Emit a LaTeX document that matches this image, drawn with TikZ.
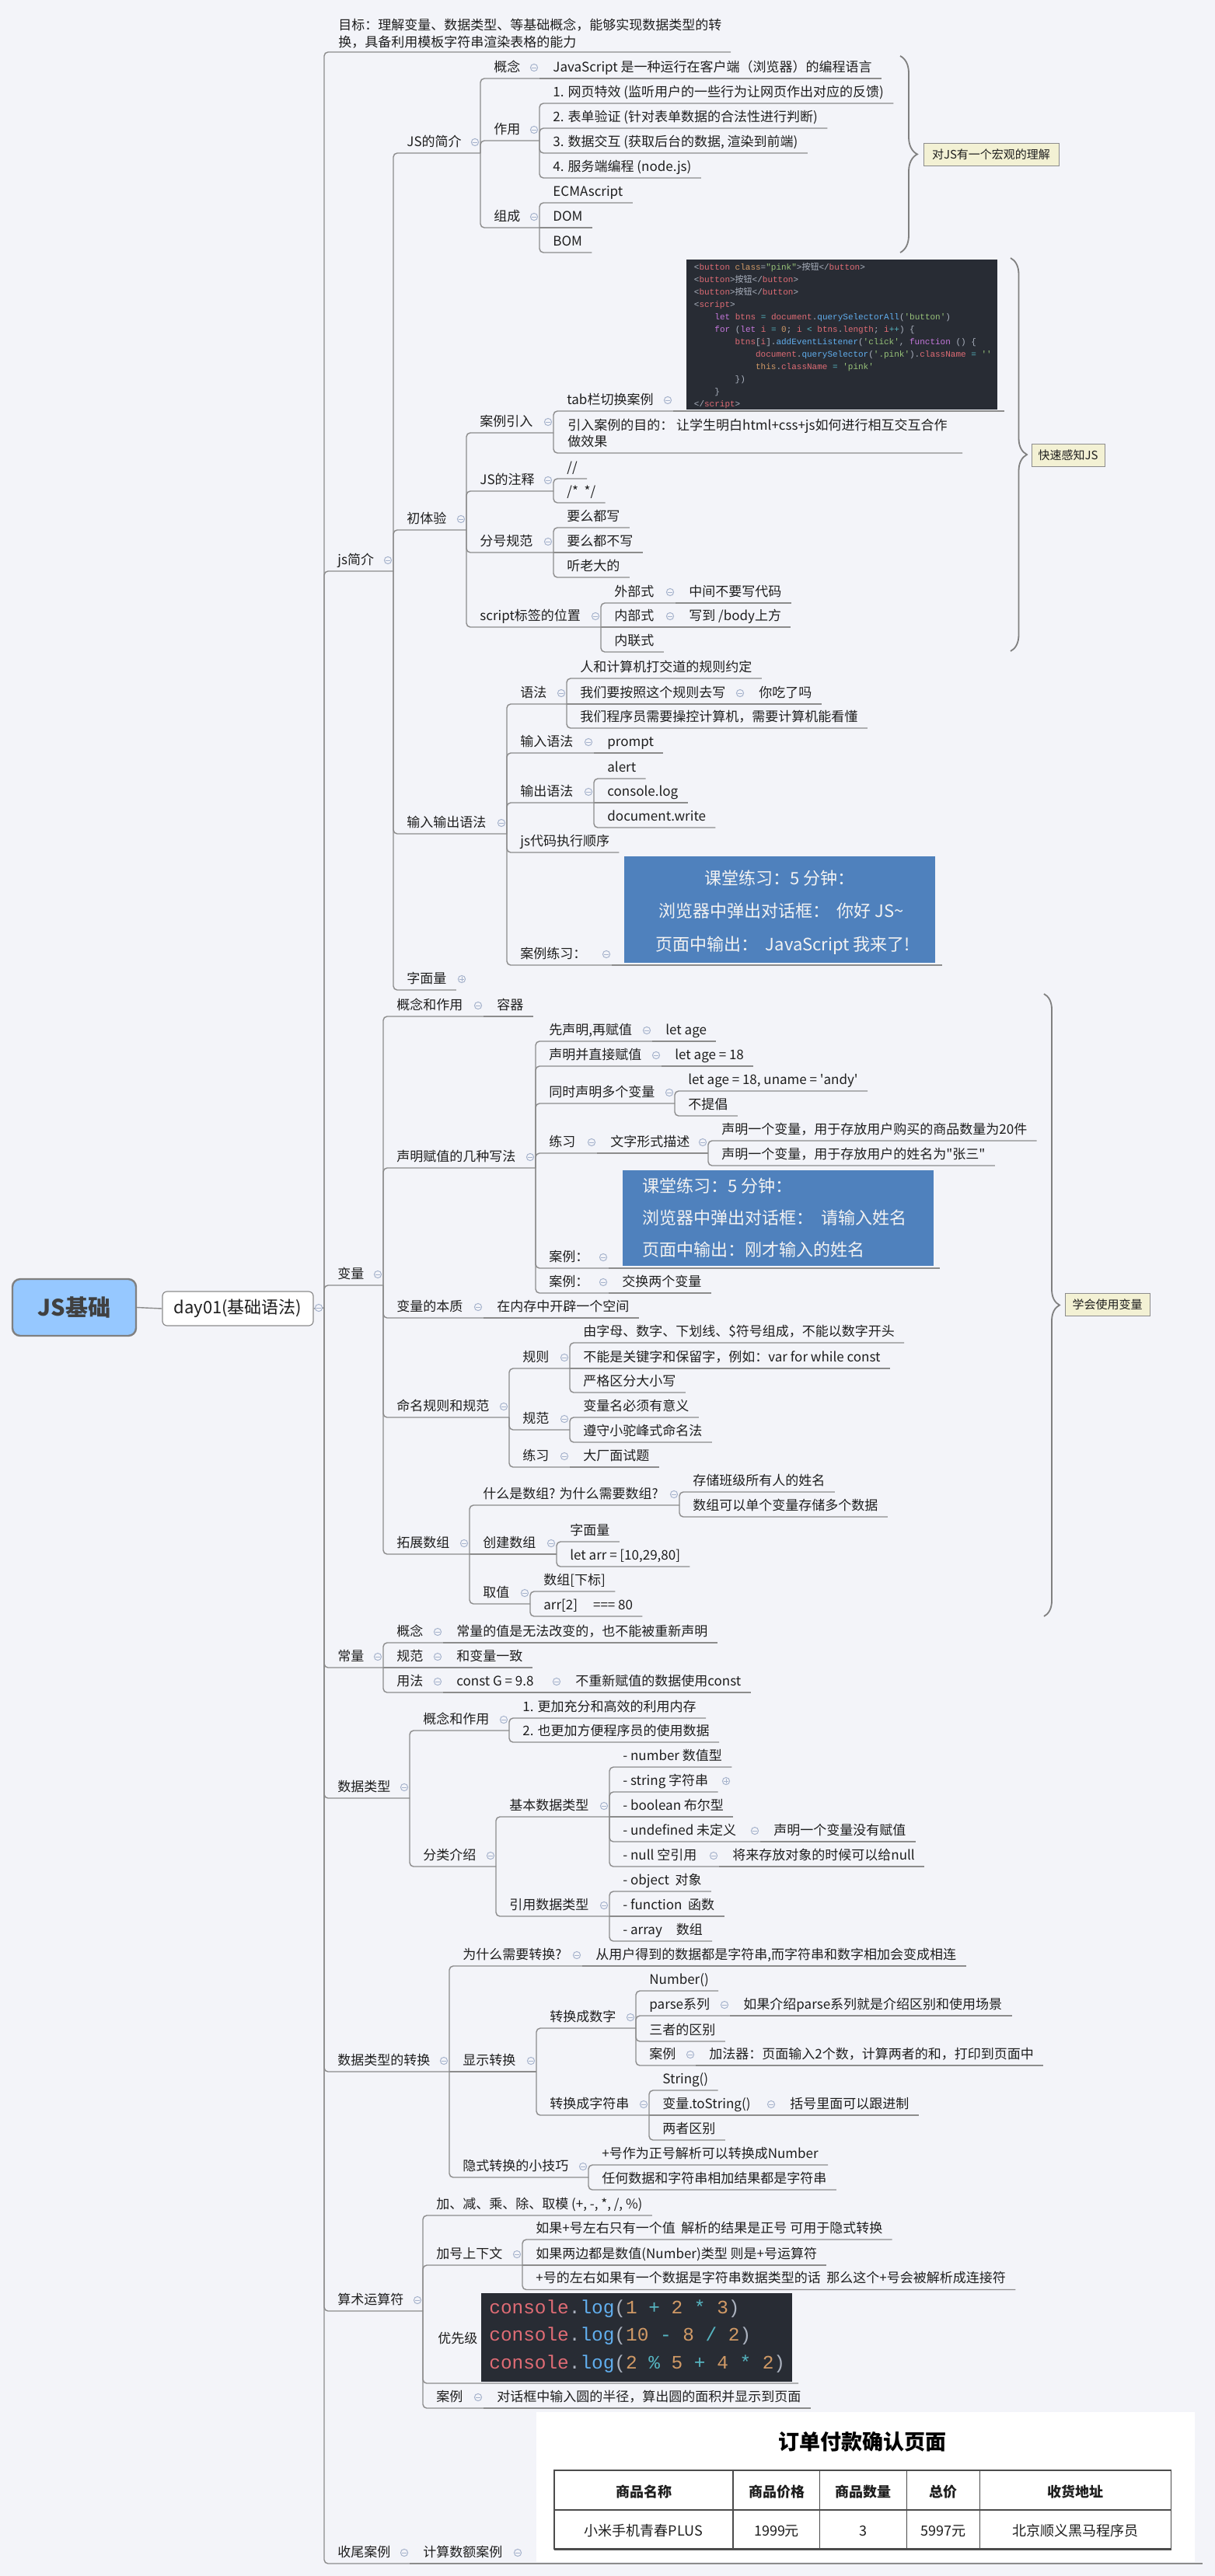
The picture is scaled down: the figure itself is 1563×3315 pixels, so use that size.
\documentclass[tikz,border=0pt]{standalone}
\usepackage{fontspec}
\setmainfont{Noto Sans CJK SC}[Ligatures=TeXOff]
\setmonofont{Liberation Mono}[Ligatures=TeXOff]
\newfontfamily\cjk{Noto Sans CJK SC}[Ligatures=TeXOff]
\usetikzlibrary{calc,decorations.pathreplacing}
\definecolor{bgc}{HTML}{F3F4F9}
\definecolor{lnc}{HTML}{8C8C8C}
\definecolor{circ}{HTML}{A6B3CC}
\definecolor{txc}{HTML}{1E1E1E}
\definecolor{codebg}{HTML}{282C34}
\definecolor{cdR}{HTML}{E06C75}
\definecolor{cdO}{HTML}{D19A66}
\definecolor{cdG}{HTML}{98C379}
\definecolor{cdB}{HTML}{61AFEF}
\definecolor{cdP}{HTML}{C678DD}
\definecolor{cdC}{HTML}{56B6C2}
\definecolor{cdF}{HTML}{ABB2BF}
\definecolor{boxblue}{HTML}{4F81BD}
\definecolor{lbl}{HTML}{F3F1D4}
\definecolor{rootc}{HTML}{96C8FF}
\newcommand\fm{\fontsize{8.5pt}{10pt}\selectfont}
\newcommand\mmMinus[2]{\draw[cir] (#1,#2) circle[radius=2.3pt];\draw[cirl] ({#1-2.6},#2) -- ({#1+2.6},#2);}
\newcommand\mmPlus[2]{\mmMinus{#1}{#2}\draw[cirl] (#1,{#2-2.6}) -- (#1,{#2+2.6});}
\newcommand\mmLeaf[4]{\node[tx] (#1) at ({#2+17},{#3-9}) {#4};\coordinate (#1-r) at ($(#1.base east)+(12,9)$);}
\newcommand\mmPar[5]{\node[tx] (#1) at ({#2+17},{#3-9}) {#5};\coordinate (#1-r) at (#4,#3);\mmMinus{#4-7}{#3-14}}
\newcommand\mmEdge[2]{\draw[ln] (#1-r) |- (#2-r);}
\newcommand\mmStr[2]{\draw[ln] (#1-r) -- (#2-r);}
\newcommand\kR[1]{\textcolor{cdR}{#1}}
\newcommand\kO[1]{\textcolor{cdO}{#1}}
\newcommand\kG[1]{\textcolor{cdG}{#1}}
\newcommand\kB[1]{\textcolor{cdB}{#1}}
\newcommand\kP[1]{\textcolor{cdP}{#1}}
\newcommand\kC[1]{\textcolor{cdC}{#1}}
\newcommand\kF[1]{\textcolor{cdF}{#1}}
\begin{document}
\begin{tikzpicture}[x=0.5pt,y=-0.5pt,
  tx/.style={anchor=base west, inner sep=0pt, font=\fm, text=txc},
  ln/.style={draw=lnc, line width=0.7pt, rounded corners=2.5pt},
  cir/.style={draw=circ, line width=0.5pt, fill=bgc},
  cirl/.style={draw=circ, line width=0.5pt},
  rootbox/.style={draw=black!50, line width=1.2pt, fill=rootc, rounded corners=5pt, minimum width=79.5pt, minimum height=36.5pt, inner sep=0pt, font=\fontsize{14.5pt}{16pt}\selectfont\bfseries, text=black!75},
  daybox/.style={draw=lnc, line width=0.6pt, fill=white, rounded corners=3pt, minimum width=97pt, minimum height=22pt, inner sep=0pt, font=\fontsize{11pt}{13pt}\selectfont, text=txc},
  imgbox/.style={anchor=north west, inner sep=0pt, draw=none},
  lblbox/.style={draw=black!45, line width=0.5pt, fill=lbl, inner sep=0pt, minimum height=14.5pt, font=\fontsize{7.5pt}{9pt}\selectfont, text=txc},
  brc/.style={draw=black!50, line width=0.9pt, decorate},
  cd1/.style={anchor=base west, inner sep=0pt, font=\fontsize{5.5pt}{6pt}\ttfamily, text=cdF},
  cd2/.style={anchor=base west, inner sep=0pt, font=\fontsize{12.2pt}{14pt}\ttfamily, text=cdF},
  bw/.style={inner sep=0pt, font=\fontsize{11pt}{13pt}\selectfont, text=white!95!black},
  tbl/.style={draw=black!70, line width=0.7pt},
  tth/.style={inner sep=0pt, font=\fontsize{9pt}{11pt}\selectfont\bfseries, text=txc},
  ttd/.style={inner sep=0pt, font=\fontsize{9pt}{11pt}\selectfont, text=txc}]
\fill[bgc] (0,0) rectangle (1563,3315);
\useasboundingbox (0,0) rectangle (1563,3315);

% ---------- root ----------
\node[rootbox] (root) at (95.5,1682.5) {JS基础};
\node[daybox] (day) at (306,1684) {day01(基础语法)};
\coordinate (d-r) at (417,1683);

% ---------- level 1 ----------
\node[tx] (goal) at (435,38.5) {目标：理解变量、数据类型、等基础概念，能够实现数据类型的转};
\node[tx] (goalb) at (435,60.5) {换，具备利用模板字符串渲染表格的能力};
\coordinate (goal-r) at (940,67);
\mmPar{jsjj}{417}{735}{506}{js简介}
\mmPar{bl}{417}{1654}{493}{变量}
\mmPar{cl}{417}{2146}{493}{常量}
\mmPar{sjlx}{417}{2314}{527}{数据类型}
\mmPar{zh}{417}{2666}{578}{数据类型的转换}
\mmPar{ys}{417}{2974}{544}{算术运算符}
\mmPar{sw}{417}{3299}{527}{收尾案例}

% ---------- js简介 ----------
\mmPar{jsjie}{506}{197}{618}{JS的简介}
\mmPar{cty}{506}{682}{600}{初体验}
\mmPar{io}{506}{1073}{652}{输入输出语法}
\mmLeaf{zml}{506}{1274}{字面量}
\mmPlus{594}{1260}

\mmPar{gn}{618}{101}{694}{概念}
\mmLeaf{gn1}{694}{101}{JavaScript 是一种运行在客户端（浏览器）的编程语言}
\mmPar{zy}{618}{181}{694}{作用}
\mmLeaf{zy1}{694}{133}{1. 网页特效 (监听用户的一些行为让网页作出对应的反馈)}
\mmLeaf{zy2}{694}{165}{2. 表单验证 (针对表单数据的合法性进行判断)}
\mmLeaf{zy3}{694}{197}{3. 数据交互 (获取后台的数据, 渲染到前端)}
\mmLeaf{zy4}{694}{229}{4. 服务端编程 (node.js)}
\mmPar{zc}{618}{293}{694}{组成}
\mmLeaf{zc1}{694}{261}{ECMAscript}
\mmLeaf{zc2}{694}{293}{DOM}
\mmLeaf{zc3}{694}{325}{BOM}

% 初体验
\mmPar{alyr}{600}{557}{712}{案例引入}
\mmPar{tab}{712}{529}{866}{tab栏切换案例}
\node[imgbox, fill=codebg, minimum width=200pt, minimum height=96.5pt] (img1) at (883,334) {};
\coordinate (img1-r) at (1292,529);
\node[cd1] (c1) at (892.5,347) {\kF{<}\kR{button} \kO{class}\kF{=}\kG{"pink"}\kF{>}{\cjk 按钮}\kF{</}\kR{button}\kF{>}};
\node[cd1] (c2) at (892.5,363) {\kF{<}\kR{button}\kF{>}{\cjk 按钮}\kF{</}\kR{button}\kF{>}};
\node[cd1] (c3) at (892.5,379) {\kF{<}\kR{button}\kF{>}{\cjk 按钮}\kF{</}\kR{button}\kF{>}};
\node[cd1] (c4) at (892.5,395) {\kF{<}\kR{script}\kF{>}};
\node[cd1] (c5) at (919,411) {\kP{let} \kR{btns} \kC{=} \kR{document}\kF{.}\kB{querySelectorAll}\kF{(}\kG{'button'}\kF{)}};
\node[cd1] (c6) at (919,427) {\kP{for} \kF{(}\kP{let} \kR{i} \kC{=} \kO{0}\kF{;} \kR{i} \kC{<} \kR{btns}\kF{.}\kR{length}\kF{;} \kR{i}\kC{++}\kF{) \{}};
\node[cd1] (c7) at (945.3,443) {\kR{btns}\kF{[}\kR{i}\kF{].}\kB{addEventListener}\kF{(}\kG{'click'}\kF{,} \kP{function} \kF{() \{}};
\node[cd1] (c8) at (971.7,459) {\kR{document}\kF{.}\kB{querySelector}\kF{(}\kG{'.pink'}\kF{).}\kR{className} \kC{=} \kG{''}};
\node[cd1] (c9) at (971.7,475) {\kO{this}\kF{.}\kR{className} \kC{=} \kG{'pink'}};
\node[cd1] (c10) at (945.3,491) {\kF{\})}};
\node[cd1] (c11) at (919,507) {\kF{\}}};
\node[cd1] (c12) at (892.5,523) {\kF{</}\kR{script}\kF{>}};
\node[tx] (mud) at (730,553.5) {引入案例的目的：~让学生明白html+css+js如何进行相互交互合作};
\node[tx] (mudb) at (730,574.5) {做效果};
\coordinate (mud-r) at (1238,583);
\mmPar{zs}{600}{632}{712}{JS的注释}
\mmLeaf{zs1}{712}{616}{//}
\mmLeaf{zs2}{712}{647}{/*~~*/}
\mmPar{fh}{600}{711}{712}{分号规范}
\mmLeaf{fh1}{712}{679}{要么都写}
\mmLeaf{fh2}{712}{711}{要么都不写}
\mmLeaf{fh3}{712}{743}{听老大的}
\mmPar{sc}{600}{807}{773}{script标签的位置}
\mmPar{wbs}{773}{776}{869}{外部式}
\mmLeaf{wbs1}{869}{776}{中间不要写代码}
\mmPar{nbs}{773}{807}{869}{内部式}
\mmLeaf{nbs1}{869}{807}{写到 /body上方}
\mmLeaf{nls}{773}{839}{内联式}

% 输入输出语法
\mmPar{yf}{652}{906}{729}{语法}
\mmLeaf{yf1}{729}{873}{人和计算机打交道的规则约定}
\mmPar{yf2}{729}{906}{959}{我们要按照这个规则去写}
\mmLeaf{yf2a}{959}{906}{你吃了吗}
\mmLeaf{yf3}{729}{937}{我们程序员需要操控计算机，需要计算机能看懂}
\mmPar{sr}{652}{969}{764}{输入语法}
\mmLeaf{sr1}{764}{969}{prompt}
\mmPar{out}{652}{1033}{764}{输出语法}
\mmLeaf{out1}{764}{1002}{alert}
\mmLeaf{out2}{764}{1033}{console.log}
\mmLeaf{out3}{764}{1065}{document.write}
\mmLeaf{ord}{652}{1097}{js代码执行顺序}
\mmPar{allx}{652}{1242}{787}{案例练习：}
\node[imgbox, fill=boxblue, minimum width=200pt, minimum height=68.5pt] (box1) at (803,1102) {};
\coordinate (box1-r) at (1212,1242);
\node[bw, anchor=base] (b1a) at (1003,1138) {课堂练习：5 分钟：};
\node[bw, anchor=base] (b1b) at (1005,1180) {浏览器中弹出对话框：~~你好 JS\textasciitilde};
\node[bw, anchor=base] (b1c) at (1007,1223) {页面中输出：~~JavaScript 我来了!};

% ---------- 变量 ----------
\mmPar{bgn}{493}{1308}{622}{概念和作用}
\mmLeaf{bgn1}{622}{1308}{容器}
\mmPar{sm}{493}{1503}{689}{声明赋值的几种写法}
\mmPar{sm1}{689}{1340}{839}{先声明,再赋值}
\mmLeaf{sm1a}{839}{1340}{let age}
\mmPar{sm2}{689}{1372}{851}{声明并直接赋值}
\mmLeaf{sm2a}{851}{1372}{let age = 18}
\mmPar{sm3}{689}{1420}{868}{同时声明多个变量}
\mmLeaf{sm3a}{868}{1404}{let age = 18, uname = 'andy'}
\mmLeaf{sm3b}{868}{1436}{不提倡}
\mmPar{sm4}{689}{1484}{768}{练习}
\mmPar{sm4a}{768}{1484}{911}{文字形式描述}
\mmLeaf{sm4a1}{911}{1468}{声明一个变量，用于存放用户购买的商品数量为20件}
\mmLeaf{sm4a2}{911}{1500}{声明一个变量，用于存放用户的姓名为"张三"}
\mmPar{sm5}{689}{1632}{783}{案例：}
\node[imgbox, fill=boxblue, minimum width=200pt, minimum height=61.5pt] (box2) at (801,1506) {};
\coordinate (box2-r) at (1209,1632);
\node[bw, anchor=base west] (b2a) at (826,1534) {课堂练习：5 分钟：};
\node[bw, anchor=base west] (b2b) at (826,1575) {浏览器中弹出对话框：~~请输入姓名};
\node[bw, anchor=base west] (b2c) at (826,1616) {页面中输出：刚才输入的姓名};
\mmPar{sm6}{689}{1664}{783}{案例：}
\mmLeaf{sm6a}{783}{1664}{交换两个变量}
\mmPar{bz}{493}{1696}{622}{变量的本质}
\mmLeaf{bz1}{622}{1696}{在内存中开辟一个空间}
\mmPar{mm}{493}{1824}{655}{命名规则和规范}
\mmPar{gz}{655}{1761}{733}{规则}
\mmLeaf{gz1}{733}{1728}{由字母、数字、下划线、\$符号组成，不能以数字开头}
\mmLeaf{gz2}{733}{1761}{不能是关键字和保留字，例如：var for while const}
\mmLeaf{gz3}{733}{1792}{严格区分大小写}
\mmPar{gf}{655}{1840}{733}{规范}
\mmLeaf{gf1}{733}{1824}{变量名必须有意义}
\mmLeaf{gf2}{733}{1856}{遵守小驼峰式命名法}
\mmPar{lx}{655}{1888}{733}{练习}
\mmLeaf{lx1}{733}{1888}{大厂面试题}
\mmPar{tz}{493}{2000}{604}{拓展数组}
\mmPar{sz}{604}{1937}{874}{什么是数组? 为什么需要数组?}
\mmLeaf{sza}{874}{1920}{存储班级所有人的姓名}
\mmLeaf{szb}{874}{1952}{数组可以单个变量存储多个数据}
\mmPar{cj}{604}{2000}{716}{创建数组}
\mmLeaf{cj1}{716}{1984}{字面量}
\mmLeaf{cj2}{716}{2016}{let arr = [10,29,80]}
\mmPar{qz}{604}{2064}{682}{取值}
\mmLeaf{qz1}{682}{2048}{数组[下标]}
\mmLeaf{qz2}{682}{2080}{arr[2]\hspace{10pt}=== 80}

% ---------- 常量 ----------
\mmPar{cgn}{493}{2114}{570}{概念}
\mmLeaf{cgn1}{570}{2114}{常量的值是无法改变的，也不能被重新声明}
\mmPar{cgf}{493}{2146}{570}{规范}
\mmLeaf{cgf1}{570}{2146}{和变量一致}
\mmPar{cyf}{493}{2178}{570}{用法}
\mmPar{cyf1}{570}{2178}{723}{const G = 9.8}
\mmLeaf{cyf1a}{723}{2178}{不重新赋值的数据使用const}

% ---------- 数据类型 ----------
\mmPar{lgn}{527}{2227}{655}{概念和作用}
\mmLeaf{lgn1}{655}{2211}{1. 更加充分和高效的利用内存}
\mmLeaf{lgn2}{655}{2242}{2. 也更加方便程序员的使用数据}
\mmPar{fl}{527}{2402}{638}{分类介绍}
\mmPar{jb}{638}{2338}{784}{基本数据类型}
\mmLeaf{jb1}{784}{2274}{- number 数值型}
\mmLeaf{jb2}{784}{2306}{- string 字符串}
\mmPlus{934}{2292}
\mmLeaf{jb3}{784}{2338}{- boolean 布尔型}
\mmPar{jb4}{784}{2370}{978}{- undefined 未定义}
\mmLeaf{jb4a}{978}{2370}{声明一个变量没有赋值}
\mmPar{jb5}{784}{2402}{925}{- null 空引用}
\mmLeaf{jb5a}{925}{2402}{将来存放对象的时候可以给null}
\mmPar{yy}{638}{2466}{784}{引用数据类型}
\mmLeaf{yy1}{784}{2434}{- object~~对象}
\mmLeaf{yy2}{784}{2466}{- function~~函数}
\mmLeaf{yy3}{784}{2498}{- array\hspace{9pt}数组}

% ---------- 数据类型的转换 ----------
\mmPar{wsm}{578}{2530}{749}{为什么需要转换?}
\mmLeaf{wsm1}{749}{2530}{从用户得到的数据都是字符串,而字符串和数字相加会变成相连}
\mmPar{xs}{578}{2666}{690}{显示转换}
\mmPar{zsz}{690}{2610}{818}{转换成数字}
\mmLeaf{n1}{818}{2562}{Number()}
\mmPar{n2}{818}{2594}{939}{parse系列}
\mmLeaf{n2a}{939}{2594}{如果介绍parse系列就是介绍区别和使用场景}
\mmLeaf{n3}{818}{2627}{三者的区别}
\mmPar{n4}{818}{2658}{895}{案例}
\mmLeaf{n4a}{895}{2658}{加法器：页面输入2个数，计算两者的和，打印到页面中}
\mmPar{zzf}{690}{2722}{835}{转换成字符串}
\mmLeaf{s1}{835}{2690}{String()}
\mmPar{s2}{835}{2722}{999}{变量.toString()}
\mmLeaf{s2a}{999}{2722}{括号里面可以跟进制}
\mmLeaf{s3}{835}{2754}{两者区别}
\mmPar{ysz}{578}{2802}{757}{隐式转换的小技巧}
\mmLeaf{ysz1}{757}{2786}{+号作为正号解析可以转换成Number}
\mmLeaf{ysz2}{757}{2818}{任何数据和字符串相加结果都是字符串}

% ---------- 算术运算符 ----------
\mmLeaf{op}{544}{2851}{加、减、乘、除、取模 (+, -, *, /, \%)}
\mmPar{jh}{544}{2915}{672}{加号上下文}
\mmLeaf{jh1}{672}{2882}{如果+号左右只有一个值~~解析的结果是正号 可用于隐式转换}
\mmLeaf{jh2}{672}{2915}{如果两边都是数值(Number)类型 则是+号运算符}
\mmLeaf{jh3}{672}{2946.5}{+号的左右如果有一个数据是字符串数据类型的话~~那么这个+号会被解析成连接符}
\node[tx] (yxj) at (563,3015.5) {优先级};
\coordinate (yxj-r) at (1027,3067);
\node[imgbox, fill=codebg, minimum width=200pt, minimum height=57pt] (img2) at (619,2951) {};
\node[cd2] (k1) at (629,2977) {\kR{console}\kF{.}\kB{log}\kF{(}\kO{1} \kC{+} \kO{2} \kC{*} \kO{3}\kF{)}};
\node[cd2] (k2) at (629,3012) {\kR{console}\kF{.}\kB{log}\kF{(}\kO{10} \kC{-} \kO{8} \kC{/} \kO{2}\kF{)}};
\node[cd2] (k3) at (629,3048) {\kR{console}\kF{.}\kB{log}\kF{(}\kO{2} \kC{\%} \kO{5} \kC{+} \kO{4} \kC{*} \kO{2}\kF{)}};
\mmPar{al}{544}{3099}{622}{案例}
\mmLeaf{al1}{622}{3099}{对话框中输入圆的半径，算出圆的面积并显示到页面}

% ---------- 收尾案例 ----------
\mmPar{jsal}{527}{3299}{673}{计算数额案例}
\node[imgbox, fill=white, minimum width=423.5pt, minimum height=96.5pt] (tblimg) at (690,3104) {};
\coordinate (tbl-r) at (1547,3299);
\node[inner sep=0pt, font=\fontsize{13.5pt}{15pt}\selectfont\bfseries, text=black] (ttl) at (1109,3142) {订单付款确认页面};
\draw[tbl] (713,3179) rectangle (1506.5,3280);
\draw[tbl] (713,3230) -- (1506.5,3230);
\draw[tbl, line width=1.2pt] (713,3281) -- (1506.5,3281);
\foreach \xx in {943,1054.5,1166.5,1260.5} \draw[tbl] (\xx,3179) -- (\xx,3280);
\node[tth] (th1) at (828,3207) {商品名称};
\node[tth] (th2) at (999,3207) {商品价格};
\node[tth] (th3) at (1110.5,3207) {商品数量};
\node[tth] (th4) at (1213.5,3207) {总价};
\node[tth] (th5) at (1383.5,3207) {收货地址};
\node[ttd] (td1) at (828,3257) {小米手机青春PLUS};
\node[ttd] (td2) at (999,3257) {1999元};
\node[ttd] (td3) at (1110.5,3257) {3};
\node[ttd] (td4) at (1213.5,3257) {5997元};
\node[ttd] (td5) at (1383.5,3257) {北京顺义黑马程序员};

% ---------- braces & labels ----------
\draw[brc, decoration={brace, amplitude=11pt}] (1158,72) -- (1158,325);
\node[lblbox, minimum width=87pt] (lb1) at (1275,198.5) {对JS有一个宏观的理解};
\draw[brc, decoration={brace, amplitude=10.5pt}] (1300,332) -- (1300,838);
\node[lblbox, minimum width=47pt] (lb2) at (1374,586) {快速感知JS};
\draw[brc, decoration={brace, amplitude=10pt}] (1343,1279) -- (1343,2080);
\node[lblbox, minimum width=54.5pt] (lb3) at (1424.5,1679) {学会使用变量};

% ---------- connectors ----------
\draw[ln] (root.east) -- (day.west);
\draw[ln] (day.east) -- (d-r);
\mmMinus{410}{1683}
\mmEdge{d}{goal}\mmEdge{d}{jsjj}\mmEdge{d}{bl}\mmEdge{d}{cl}
\mmEdge{d}{sjlx}\mmEdge{d}{zh}\mmEdge{d}{ys}\mmEdge{d}{sw}

\mmEdge{jsjj}{jsjie}\mmEdge{jsjj}{cty}\mmEdge{jsjj}{io}\mmEdge{jsjj}{zml}
\mmEdge{jsjie}{gn}\mmEdge{jsjie}{zy}\mmEdge{jsjie}{zc}
\mmStr{gn}{gn1}
\mmEdge{zy}{zy1}\mmEdge{zy}{zy2}\mmEdge{zy}{zy3}\mmEdge{zy}{zy4}
\mmEdge{zc}{zc1}\mmStr{zc}{zc2}\mmEdge{zc}{zc3}

\mmEdge{cty}{alyr}\mmEdge{cty}{zs}\mmEdge{cty}{fh}\mmEdge{cty}{sc}
\mmEdge{alyr}{tab}\mmEdge{alyr}{mud}\mmStr{tab}{img1}
\mmEdge{zs}{zs1}\mmEdge{zs}{zs2}
\mmEdge{fh}{fh1}\mmStr{fh}{fh2}\mmEdge{fh}{fh3}
\mmEdge{sc}{wbs}\mmStr{sc}{nbs}\mmEdge{sc}{nls}
\mmStr{wbs}{wbs1}\mmStr{nbs}{nbs1}

\mmEdge{io}{yf}\mmEdge{io}{sr}\mmEdge{io}{out}\mmEdge{io}{ord}\mmEdge{io}{allx}
\mmEdge{yf}{yf1}\mmStr{yf}{yf2}\mmEdge{yf}{yf3}\mmStr{yf2}{yf2a}
\mmStr{sr}{sr1}
\mmEdge{out}{out1}\mmStr{out}{out2}\mmEdge{out}{out3}
\mmStr{allx}{box1}

\mmEdge{bl}{bgn}\mmEdge{bl}{sm}\mmEdge{bl}{bz}\mmEdge{bl}{mm}\mmEdge{bl}{tz}
\mmStr{bgn}{bgn1}
\mmEdge{sm}{sm1}\mmEdge{sm}{sm2}\mmEdge{sm}{sm3}\mmEdge{sm}{sm4}\mmEdge{sm}{sm5}\mmEdge{sm}{sm6}
\mmStr{sm1}{sm1a}\mmStr{sm2}{sm2a}
\mmEdge{sm3}{sm3a}\mmEdge{sm3}{sm3b}
\mmStr{sm4}{sm4a}\mmEdge{sm4a}{sm4a1}\mmEdge{sm4a}{sm4a2}
\mmStr{sm5}{box2}\mmStr{sm6}{sm6a}
\mmStr{bz}{bz1}
\mmEdge{mm}{gz}\mmEdge{mm}{gf}\mmEdge{mm}{lx}
\mmEdge{gz}{gz1}\mmStr{gz}{gz2}\mmEdge{gz}{gz3}
\mmEdge{gf}{gf1}\mmEdge{gf}{gf2}\mmStr{lx}{lx1}
\mmEdge{tz}{sz}\mmStr{tz}{cj}\mmEdge{tz}{qz}
\mmEdge{sz}{sza}\mmEdge{sz}{szb}
\mmEdge{cj}{cj1}\mmEdge{cj}{cj2}
\mmEdge{qz}{qz1}\mmEdge{qz}{qz2}

\mmEdge{cl}{cgn}\mmStr{cl}{cgf}\mmEdge{cl}{cyf}
\mmStr{cgn}{cgn1}\mmStr{cgf}{cgf1}\mmStr{cyf}{cyf1}\mmStr{cyf1}{cyf1a}

\mmEdge{sjlx}{lgn}\mmEdge{sjlx}{fl}
\mmEdge{lgn}{lgn1}\mmEdge{lgn}{lgn2}
\mmEdge{fl}{jb}\mmEdge{fl}{yy}
\mmEdge{jb}{jb1}\mmEdge{jb}{jb2}\mmStr{jb}{jb3}\mmEdge{jb}{jb4}\mmEdge{jb}{jb5}
\mmStr{jb4}{jb4a}\mmStr{jb5}{jb5a}
\mmEdge{yy}{yy1}\mmStr{yy}{yy2}\mmEdge{yy}{yy3}

\mmEdge{zh}{wsm}\mmStr{zh}{xs}\mmEdge{zh}{ysz}
\mmStr{wsm}{wsm1}
\mmEdge{xs}{zsz}\mmEdge{xs}{zzf}
\mmEdge{zsz}{n1}\mmEdge{zsz}{n2}\mmEdge{zsz}{n3}\mmEdge{zsz}{n4}
\mmStr{n2}{n2a}\mmStr{n4}{n4a}
\mmEdge{zzf}{s1}\mmStr{zzf}{s2}\mmEdge{zzf}{s3}\mmStr{s2}{s2a}
\mmEdge{ysz}{ysz1}\mmEdge{ysz}{ysz2}

\mmEdge{ys}{op}\mmEdge{ys}{jh}\mmEdge{ys}{yxj}\mmEdge{ys}{al}
\mmEdge{jh}{jh1}\mmStr{jh}{jh2}\mmEdge{jh}{jh3}
\mmStr{al}{al1}

\mmStr{sw}{jsal}\mmStr{jsal}{tbl}
\end{tikzpicture}
\end{document}
